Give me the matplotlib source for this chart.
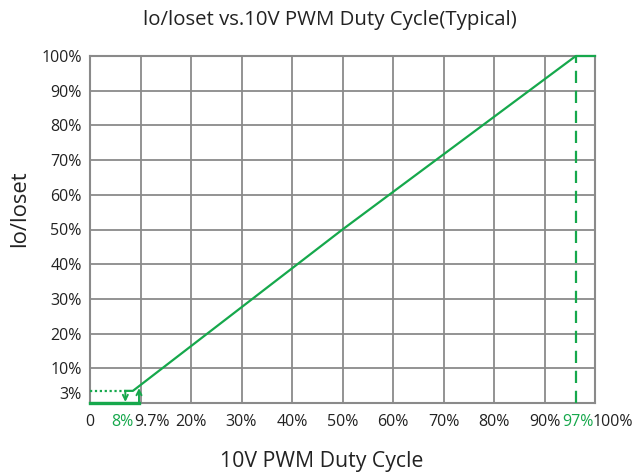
import matplotlib
matplotlib.use("Agg")
import matplotlib.pyplot as plt

# curve (duty %, Io/Ioset %)
duty = [7.0, 8.5, 50, 96.2, 100]
iout = [3.5, 3.5, 50, 100, 100]
off_duty = 7.0     # where the "8%" arrow sits
on_duty = 9.7
min_level = 3.5
full_duty = 96.2

x_ticks = [0, 8.69, 8.71, 20, 30, 40, 50, 60, 70, 80, 90, 96.6, 99.6]
x_labels = ["0", "8%", "9.7%", "20%", "30%", "40%", "50%", "60%", "70%", "80%", "90%", "97%", "100%"]
x_align = ["center", "right", "left", "center", "center", "center", "center",
           "center", "center", "center", "center", "center", "left"]
x_green = ["8%", "97%"]
y_ticks = [3, 10, 20, 30, 40, 50, 60, 70, 80, 90, 100]
y_labels = ["3%", "10%", "20%", "30%", "40%", "50%", "60%", "70%", "80%", "90%", "100%"]
grid_vals = [10, 20, 30, 40, 50, 60, 70, 80, 90]

green = "#16a84c"
gray = "#8a8a8a"
txt = "#222222"

plt.rcParams["font.family"] = ["Open Sans", "DejaVu Sans"]

fig = plt.figure(figsize=(6.38, 4.72), dpi=100)
ax = fig.add_axes([90/638, 1-403/472, 505/638, 347/472])
ax.set_xlim(0, 100)
ax.set_ylim(0, 100)

for g in grid_vals:
    ax.axvline(g, color=gray, lw=1.3, zorder=1)
    ax.axhline(g, color=gray, lw=1.3, zorder=1)
for s in ax.spines.values():
    s.set_color(gray)
    s.set_linewidth(1.5)

# main curve
ax.plot(duty, iout, color=green, lw=1.6, zorder=3, clip_on=False)
ax.plot([0, off_duty], [min_level, min_level], color=green, lw=1.6, ls=(0, (1, 1.2)), zorder=3)
ax.plot([0, on_duty], [0, 0], color=green, lw=2.4, zorder=4, clip_on=False)
ax.plot([full_duty, full_duty], [0, 100], color=green, lw=1.6, ls=(0, (5.5, 3.5)), zorder=3, clip_on=False)

# hysteresis arrows
ax.annotate("", xy=(off_duty, 0.3), xytext=(off_duty, min_level),
            arrowprops=dict(arrowstyle="->", color=green, lw=1.4, mutation_scale=9, shrinkA=0, shrinkB=0))
ax.annotate("", xy=(on_duty, min_level + 0.8), xytext=(on_duty, 0.3),
            arrowprops=dict(arrowstyle="->", color=green, lw=1.4, mutation_scale=9, shrinkA=0, shrinkB=0))

ax.set_xticks(x_ticks)
ax.set_xticklabels(x_labels)
ax.set_yticks(y_ticks)
ax.set_yticklabels(y_labels)
ax.tick_params(length=0, labelsize=11.5, colors=txt)
ax.tick_params(axis="x", pad=8)
ax.tick_params(axis="y", pad=6)
for lab, ha in zip(ax.get_xticklabels(), x_align):
    lab.set_ha(ha)
    if lab.get_text() in x_green:
        lab.set_color(green)

fig.text(322/638, 1-462/472, "10V PWM Duty Cycle", ha="center", va="center", fontsize=15.3, color=txt)
fig.text(20/638, 1-209/472, "lo/loset", ha="center", va="center", rotation=90, fontsize=15.8, color=txt)
fig.text(330/638, 1-20/472, "lo/loset vs.10V PWM Duty Cycle(Typical)", ha="center", va="center",
         fontsize=14.7, color=txt)

fig.savefig("out.png", dpi=100)
